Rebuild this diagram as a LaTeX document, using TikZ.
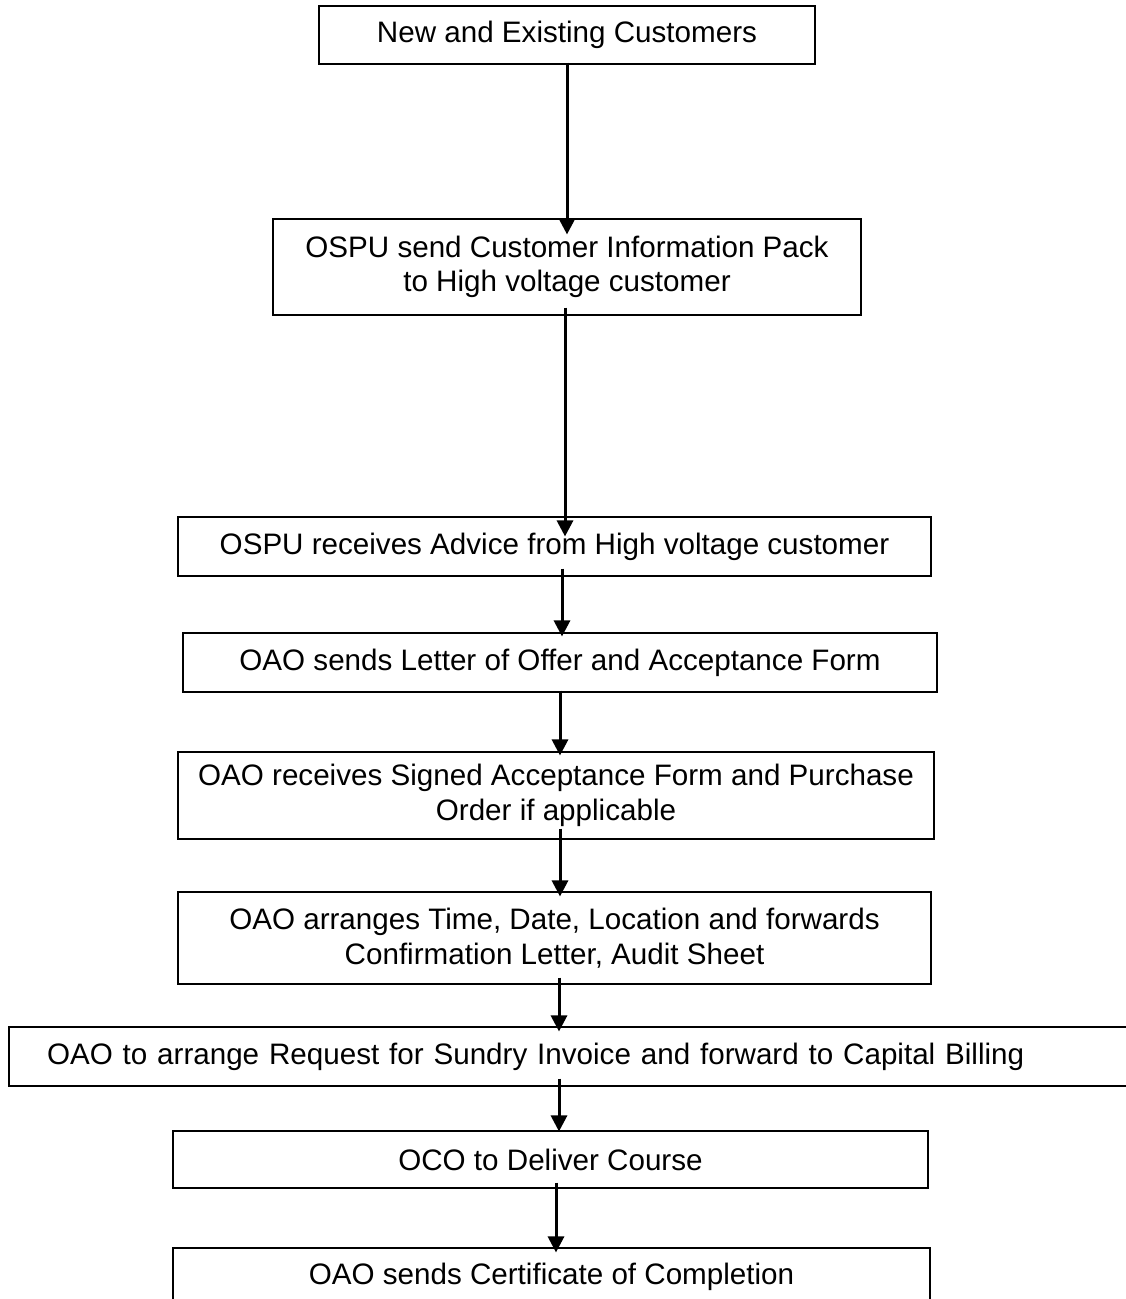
\documentclass[tikz,border=0pt]{standalone}
\usepackage{fontspec}
\setmainfont{Liberation Sans}
\usetikzlibrary{arrows.meta}
\tikzset{
  stepbox/.style={draw,line width=1.1pt,inner sep=0pt,align=center,
    font=\fontsize{29.6}{34.5}\selectfont},
  flow/.style={line width=3pt,-{Triangle[length=16pt,width=16pt]}}
}
\begin{document}
\begin{tikzpicture}[x=1pt,y=-1pt]
      \useasboundingbox (0,0) rectangle (1126,1299);
      \draw
        (567,35) node[stepbox,minimum width=496pt,minimum height=58pt] (0){New and Existing Customers}
        (567,267) node[stepbox,minimum width=588pt,minimum height=96pt] (1){OSPU send Customer Information Pack\\to High voltage customer}
        (554.5,546.5) node[stepbox,minimum width=753pt,minimum height=59pt] (2){OSPU receives Advice from High voltage customer}
        (560,662.5) node[stepbox,minimum width=754pt,minimum height=59pt] (3){OAO sends Letter of Offer and Acceptance Form}
        (556,795.5) node[stepbox,minimum width=756pt,minimum height=87pt] (4){OAO receives Signed Acceptance Form and Purchase\\Order if applicable}
        (554.5,938) node[stepbox,minimum width=753pt,minimum height=92pt] (5){OAO arranges Time, Date, Location and forwards\\Confirmation Letter, Audit Sheet}
        (574.5,1056.5) node[stepbox,inner xsep=38pt,text width=1055pt,align=left,minimum height=59pt] (6){OAO to arrange Request for Sundry Invoice and forward to Capital Billing}
        (550.5,1159.5) node[stepbox,minimum width=755pt,minimum height=57pt] (7){OCO to Deliver Course}
        (551.5,1277) node[stepbox,minimum width=757pt,minimum height=58pt] (8){OAO sends Certificate of Completion};
      \begin{scope}[flow]
        \draw ([yshift=2pt]0.south) to ([yshift=-16pt]1.north);
        \draw ([xshift=-2pt,yshift=8pt]1.south) to ([xshift=10.5pt,yshift=-20pt]2.north);
        \draw ([xshift=7.5pt,yshift=8pt]2.south) to ([xshift=2pt,yshift=-4pt]3.north);
        \draw ([yshift=2pt]3.south) to ([xshift=4pt,yshift=-4pt]4.north);
        \draw ([xshift=4pt,yshift=11pt]4.south) to ([xshift=5.5pt,yshift=-5pt]5.north);
        \draw ([xshift=4.5pt,yshift=7pt]5.south) to ([xshift=-15.5pt,yshift=-5pt]6.north);
        \draw ([xshift=-15.5pt,yshift=8pt]6.south) to ([xshift=8.5pt,yshift=-1pt]7.north);
        \draw ([xshift=5.5pt,yshift=6pt]7.south) to ([xshift=4.5pt,yshift=-5pt]8.north);
      \end{scope}
    \end{tikzpicture}
\end{document}
